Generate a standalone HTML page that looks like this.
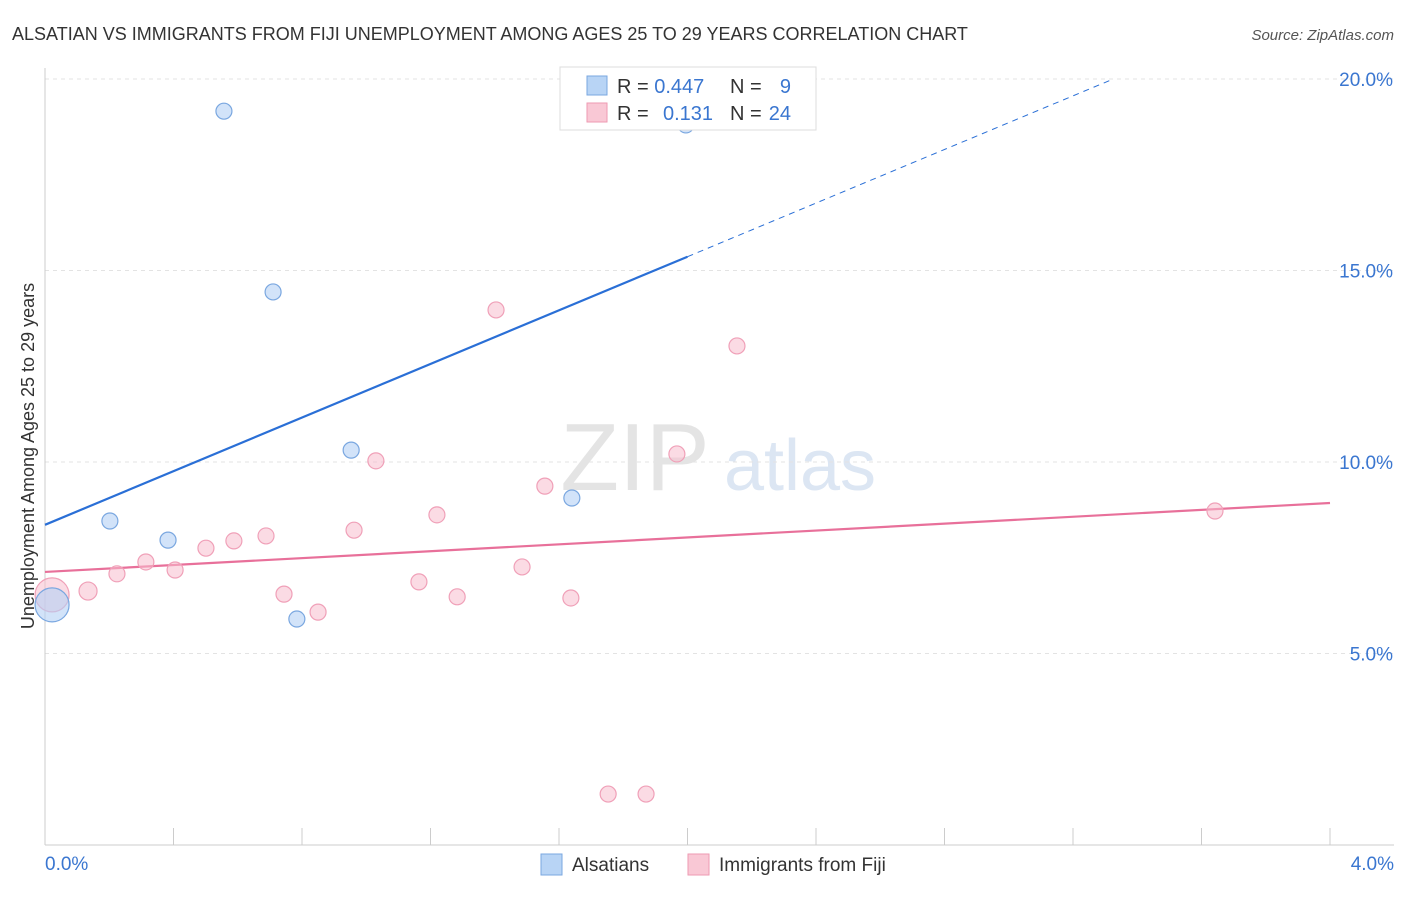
<!DOCTYPE html>
<html><head><meta charset="utf-8"><style>
body{margin:0;background:#fff;font-family:"Liberation Sans",sans-serif;}
svg text{font-family:"Liberation Sans",sans-serif;}
</style></head><body>
<svg id="chart" width="1406" height="892" xmlns="http://www.w3.org/2000/svg">
<text x="12" y="40" font-size="18" fill="#333">ALSATIAN VS IMMIGRANTS FROM FIJI UNEMPLOYMENT AMONG AGES 25 TO 29 YEARS CORRELATION CHART</text>
<text x="1394" y="40" font-size="15" fill="#555" text-anchor="end" font-style="italic">Source: ZipAtlas.com</text>
<text transform="translate(34,456) rotate(-90)" font-size="18" fill="#333" text-anchor="middle">Unemployment Among Ages 25 to 29 years</text>
<g>
<text x="635" y="490" font-size="96" fill="#e4e4e4" font-family="Liberation Serif" text-anchor="middle">ZIP</text>
<text x="800" y="490" font-size="72" fill="#dce6f3" text-anchor="middle">atlas</text>
</g>
<g id="grid"></g><g id="axes"></g><g id="lines"></g><g id="points"></g>
<g>
<rect x="560" y="67" width="256" height="63" fill="#fff" stroke="#ddd"/>
<rect x="587" y="76" width="20" height="19" fill="#b8d4f5" stroke="#7aa7e0"/>
<text x="617" y="93" font-size="20" fill="#333">R = <tspan fill="#3a76d0">0.447</tspan></text>
<text x="730" y="93" font-size="20" fill="#333">N = </text><text x="791" y="93" font-size="20" fill="#3a76d0" text-anchor="end">9</text>
<rect x="587" y="103" width="20" height="19" fill="#f9c8d5" stroke="#ee9ab2"/>
<text x="617" y="120" font-size="20" fill="#333">R = </text><text x="663" y="120" font-size="20" fill="#3a76d0">0.131</text>
<text x="730" y="120" font-size="20" fill="#333">N = </text><text x="791" y="120" font-size="20" fill="#3a76d0" text-anchor="end">24</text>
</g>
<g>
<rect x="541" y="854" width="21" height="21" fill="#b8d4f5" stroke="#7aa7e0"/>
<text x="572" y="871" font-size="19" fill="#333">Alsatians</text>
<rect x="688" y="854" width="21" height="21" fill="#f9c8d5" stroke="#ee9ab2"/>
<text x="719" y="871" font-size="19" fill="#333">Immigrants from Fiji</text>
</g>
</svg>
<script>
const yTicks=[5,10,15,20];
const yTickLabels=["5.0%","10.0%","15.0%","20.0%"];
const xTickCount=10;
const blueX=[0.557,0.710,0.953,0.202,0.383,0.784,1.640,1.995,0.022];
const blueY=[19.16,14.44,10.31,8.46,7.96,5.90,9.06,18.80,6.27];
const blueR=[8,8,8,8,8,8,8,8,17];
const pinkX=[0.022,0.134,0.224,0.314,0.405,0.501,0.588,0.688,0.744,0.850,0.962,1.030,1.164,1.220,1.283,1.404,1.485,1.556,1.637,1.753,1.871,1.967,2.154,3.642];
const pinkY=[6.53,6.63,7.08,7.39,7.18,7.75,7.94,8.07,6.55,6.08,8.22,10.03,6.87,8.62,6.48,13.97,7.26,9.37,6.45,1.33,1.33,10.21,13.03,8.72];
const pinkR=[17,9,8,8,8,8,8,8,8,8,8,8,8,8,8,8,8,8,8,8,8,8,8,8];
const blueTrend=[8.36,3.5];
const pinkTrend=[7.13,0.45];
const NS="http://www.w3.org/2000/svg";
const X=v=>45+v*321.25, Y=v=>845-v*38.3;
function mk(t,a,p){const e=document.createElementNS(NS,t);for(const k in a)e.setAttribute(k,a[k]);p.appendChild(e);return e;}
const grid=document.getElementById('grid'),axes=document.getElementById('axes'),lines=document.getElementById('lines'),pts=document.getElementById('points');
yTicks.forEach((t,i)=>{
 const l=mk('line',{x1:45,x2:1394,y1:Y(t),y2:Y(t),stroke:'#e3e3e3','stroke-dasharray':'4,4'},grid);
 
 
 const tx=mk('text',{x:1393,y:Y(t)+7,'font-size':19,fill:'#3a76d0','text-anchor':'end'},axes);tx.textContent=yTickLabels[i];
 
 
});
const ax=mk('line',{x1:45,x2:1394,y1:845,y2:845,stroke:'#ccc'},axes);


const ay=mk('line',{x1:45,x2:45,y1:68,y2:845,stroke:'#ccc'},axes);


for(let i=1;i<=xTickCount;i++){const t=mk('line',{x1:X(i*0.4),x2:X(i*0.4),y1:828,y2:845,stroke:'#ccc'},axes);
 
 }
[[45,'0.0%','start'],[1394,'4.0%','end']].forEach(([x,s,a])=>{const t=mk('text',{x:x,y:870,'font-size':19,fill:'#3a76d0','text-anchor':a},axes);t.textContent=s;
 
 });
// trend lines
const bEnd=(20-blueTrend[0])/blueTrend[1];
const b1=mk('line',{x1:X(0),y1:Y(blueTrend[0]),x2:X(2),y2:Y(blueTrend[0]+2*blueTrend[1]),stroke:'#2a6fd6','stroke-width':2.2},lines);


const b2=mk('line',{x1:X(2),y1:Y(blueTrend[0]+2*blueTrend[1]),x2:X(bEnd),y2:Y(20),stroke:'#2a6fd6','stroke-width':1,'stroke-dasharray':'6,5'},lines);


const p1=mk('line',{x1:X(0),y1:Y(pinkTrend[0]),x2:X(4),y2:Y(pinkTrend[0]+4*pinkTrend[1]),stroke:'#e8709a','stroke-width':2.2},lines);


pinkX.forEach((v,i)=>{const c=mk('circle',{cx:X(v),cy:Y(pinkY[i]),r:pinkR[i],fill:'rgba(248,190,206,0.55)',stroke:'#f0a0b8','stroke-width':1.2},pts);
 
 });
blueX.forEach((v,i)=>{const c=mk('circle',{cx:X(v),cy:Y(blueY[i]),r:blueR[i],fill:'rgba(180,208,245,0.6)',stroke:'#7aa7e0','stroke-width':1.2},pts);
 
 });
</script>
</body></html>
